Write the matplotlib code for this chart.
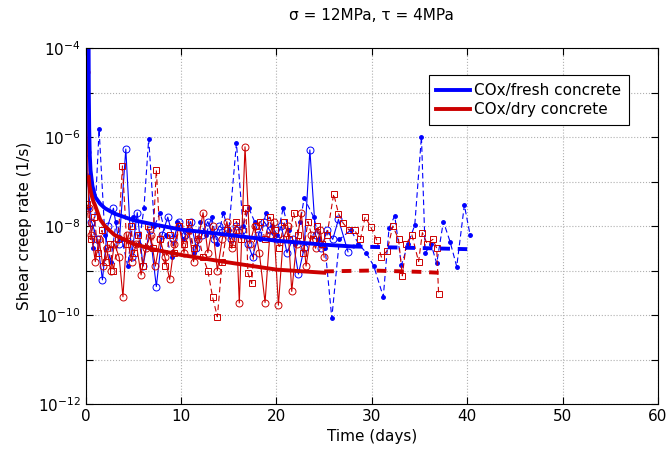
import numpy as np
import matplotlib
matplotlib.use("Agg")
import matplotlib.pyplot as plt
from matplotlib.ticker import FixedLocator, FuncFormatter

# ---------------------------------------------------------------
# data (rates stored as log10 of 1/s)
# ---------------------------------------------------------------
# fresh concrete, test 1 (solid, open circles)
t_fresh1 = [0.05, 0.1, 0.15, 0.6, 1.2, 1.75, 2.3, 2.9, 3.5, 4.2, 4.8, 5.4, 6.0, 6.7,
            7.4, 8.0, 8.6, 9.2, 9.8, 10.4, 11.0, 11.6, 12.2, 12.8, 13.4, 14.0, 14.6,
            15.2, 15.8, 16.4, 17.0, 17.5, 18.1, 18.7, 19.3, 19.9, 20.5, 21.1, 21.7,
            22.3, 22.9, 23.5, 24.1, 24.7, 25.3, 25.9, 26.5, 27.5]
r_fresh1 = [-6.18, -6.33, -6.89, -7.9, -8.3, -9.21, -8.0, -7.6, -8.4, -6.27, -8.7, -7.7,
            -8.9, -8.1, -9.36, -8.2, -7.8, -8.3, -7.9, -8.2, -7.9, -8.5, -8.2, -7.9,
            -8.3, -8.0, -8.1, -8.3, -8.0, -8.1, -8.4, -8.69, -8.2, -7.9, -8.1, -8.3,
            -8.0, -8.6, -8.3, -9.08, -8.5, -6.29, -8.2, -8.5, -8.1, -8.3, -7.85, -8.58]

# fresh concrete, test 2 (dashed, dots)
t_fresh2 = [0.3, 0.8, 1.4, 2.0, 2.6, 3.2, 3.8, 4.4, 5.0, 5.6, 6.1, 6.6, 7.2, 7.8, 8.4,
            9.0, 9.6, 10.2, 10.8, 11.4, 12.0, 12.6, 13.2, 13.8, 14.4, 15.0, 15.8, 16.5,
            17.1, 17.7, 18.3, 18.9, 19.5, 20.1, 20.7, 21.3, 21.9, 22.5, 22.9, 23.9,
            24.5, 25.1, 25.8, 26.6, 27.8, 28.6, 29.4, 30.2, 31.2, 31.8, 32.4, 33.1,
            33.8, 34.5, 35.2, 35.6, 36.2, 36.8, 37.5, 38.2, 38.9, 39.7, 40.3]
r_fresh2 = [-7.6, -8.5, -5.83, -8.2, -8.8, -7.9, -8.3, -8.9, -7.8, -8.4, -7.6, -6.04,
            -8.0, -7.7, -8.2, -8.7, -7.9, -8.3, -8.1, -8.6, -7.9, -8.2, -7.8, -8.4,
            -7.7, -8.1, -6.14, -8.0, -7.6, -7.9, -8.3, -7.7, -8.0, -8.2, -7.6, -8.1,
            -8.4, -7.9, -7.37, -7.8, -8.3, -8.5, -10.07, -8.3, -8.09, -8.4, -8.6,
            -8.9, -9.59, -8.05, -7.77, -8.88, -8.4, -7.98, -5.99, -8.61, -8.4, -8.84,
            -7.9, -8.35, -8.91, -7.53, -8.2]

# dry concrete, test 1 (solid, open circles)
t_dry1 = [0.05, 0.3, 0.6, 1.0, 1.4, 1.8, 2.2, 2.6, 3.0, 3.5, 3.9, 4.3, 4.8, 5.3, 5.8,
          6.3, 6.8, 7.3, 7.8, 8.3, 8.8, 9.3, 9.8, 10.3, 10.8, 11.3, 11.8, 12.3, 12.8,
          13.3, 13.8, 14.3, 14.8, 15.3, 15.8, 16.1, 16.7, 17.2, 17.7, 18.2, 18.8,
          19.3, 19.7, 20.2, 20.7, 21.2, 21.6, 22.1, 22.6, 23.1, 23.6, 24.1, 24.6, 25.0]
r_dry1 = [-4.53, -7.6, -8.2, -8.8, -8.3, -8.9, -8.5, -9.0, -8.4, -8.7, -9.59, -8.2,
          -8.8, -8.4, -9.1, -8.5, -8.2, -8.9, -8.3, -8.7, -9.2, -8.4, -8.0, -8.6, -8.1,
          -8.8, -8.3, -7.7, -8.6, -8.0, -9.0, -8.3, -7.9, -8.5, -8.1, -9.73, -6.22,
          -8.4, -8.0, -8.6, -9.72, -8.2, -7.9, -9.78, -8.3, -8.0, -9.47, -8.4, -7.7,
          -8.9, -8.2, -8.5, -8.1, -8.7]

# dry concrete, test 2 (dashed, open squares)
t_dry2 = [0.1, 0.5, 0.9, 1.3, 1.7, 2.1, 2.5, 2.9, 3.4, 3.85, 4.3, 4.7, 5.1, 5.5, 6.0,
          6.5, 7.0, 7.4, 7.8, 8.3, 8.8, 9.3, 9.8, 10.3, 10.8, 11.3, 11.8, 12.3, 12.8,
          13.3, 13.8, 14.3, 14.8, 15.3, 15.8, 16.3, 16.8, 17.0, 17.4, 17.8, 18.3, 18.8,
          19.3, 19.8, 20.3, 20.8, 21.3, 21.8, 22.3, 22.8, 23.3, 23.8, 24.3, 24.8, 25.3,
          26.0, 26.5, 27.0, 27.6, 28.2, 28.8, 29.3, 29.9, 30.5, 31.0, 31.6, 32.2, 32.8,
          33.2, 33.6, 34.2, 34.9, 35.3, 35.8, 36.4, 36.8, 37.0]
r_dry2 = [-7.5, -8.3, -7.8, -8.6, -8.1, -8.8, -8.4, -9.0, -8.3, -6.65, -8.4, -8.0,
          -8.6, -8.2, -8.9, -8.0, -8.5, -6.74, -8.3, -8.9, -8.2, -8.6, -8.0, -8.4,
          -7.9, -8.5, -8.2, -8.7, -9.0, -9.6, -10.04, -8.8, -8.1, -8.4, -7.9, -8.3,
          -7.6, -9.06, -9.29, -8.0, -7.9, -8.3, -7.8, -8.1, -8.5, -7.9, -8.3, -7.7,
          -8.2, -8.6, -7.9, -8.3, -8.0, -8.4, -8.2, -7.28, -7.72, -7.94, -8.09, -8.1,
          -8.3, -7.79, -8.03, -8.31, -8.7, -8.56, -8.0, -8.3, -9.12, -8.4, -8.2, -8.8,
          -8.15, -8.4, -8.3, -8.5, -9.53]

# fitted creep laws (thick lines), solid over the test period, dashed beyond
t_fit_fresh = [0.3, 0.32, 0.36, 0.42, 0.5, 0.7, 1.0, 1.5, 2.0, 3.0, 5.0, 7.0, 10.0,
               15.0, 20.0, 25.0, 28.0]
r_fit_fresh = [-4.0, -5.0, -5.8, -6.4, -6.75, -7.1, -7.35, -7.5, -7.6, -7.72, -7.87,
               -7.96, -8.08, -8.2, -8.33, -8.42, -8.46]
t_ext_fresh = [28.0, 32.0, 36.0, 40.0]
r_ext_fresh = [-8.46, -8.48, -8.5, -8.52]

t_fit_dry = [0.3, 0.4, 0.6, 0.8, 1.0, 1.5, 2.0, 3.0, 5.0, 7.0, 10.0, 15.0, 20.0, 25.0]
r_fit_dry = [-6.9, -7.1, -7.3, -7.45, -7.55, -7.85, -8.0, -8.2, -8.4, -8.52, -8.65,
             -8.82, -8.98, -9.05]
t_ext_dry = [25.0, 30.0, 35.0, 37.0]
r_ext_dry = [-9.02, -9.0, -9.03, -9.05]

BLUE = "#0000ff"
RED = "#cc0000"

plt.rcParams["font.family"] = "DejaVu Sans"
plt.rcParams["mathtext.default"] = "regular"

fig = plt.figure(figsize=(6.7, 4.66), dpi=100)
ax = fig.add_axes([0.128, 0.133, 0.854, 0.764])

def p(v):
    return 10.0 ** np.array(v)

# measured rates
ax.plot(t_fresh1, p(r_fresh1), "-", color=BLUE, lw=0.8, marker="o", ms=5,
        mfc="none", mew=0.7)
ax.plot(t_fresh2, p(r_fresh2), "--", color=BLUE, lw=0.8, marker=".", ms=5,
        dashes=(5, 3))
ax.plot(t_dry1, p(r_dry1), "-", color=RED, lw=0.8, marker="o", ms=5,
        mfc="none", mew=0.7)
ax.plot(t_dry2, p(r_dry2), "--", color=RED, lw=0.8, marker="s", ms=4.5,
        mfc="none", mew=0.7, dashes=(5, 3))

# fits
ax.plot(t_fit_fresh, p(r_fit_fresh), "-", color=BLUE, lw=2.8, label="COx/fresh concrete")
ax.plot(t_ext_fresh, p(r_ext_fresh), "--", color=BLUE, lw=2.8, dashes=(2.5, 2))
ax.plot(t_fit_dry, p(r_fit_dry), "-", color=RED, lw=2.8, label="COx/dry concrete")
ax.plot(t_ext_dry, p(r_ext_dry), "--", color=RED, lw=2.8, dashes=(2.5, 2))

ax.set_yscale("log")
ax.set_xlim(0, 60)
ax.set_ylim(1e-12, 1e-4)
ax.set_xticks([0, 10, 20, 30, 40, 50, 60])
ax.yaxis.set_major_locator(FixedLocator([10.0 ** k for k in range(-12, -3)]))
ax.yaxis.set_minor_locator(FixedLocator([]))

def yfmt(v, pos):
    k = int(round(np.log10(v)))
    return r"$10^{%d}$" % k if k % 2 == 0 else ""

ax.yaxis.set_major_formatter(FuncFormatter(yfmt))
ax.tick_params(direction="in", top=True, right=True, labelsize=11, length=5)
ax.grid(True, which="major", ls=":", color="#b0b0b0", lw=0.8)

ax.set_xlabel("Time (days)", fontsize=11)
ax.set_ylabel("Shear creep rate (1/s)", fontsize=11)
ax.set_title("σ = 12MPa, τ = 4MPa", fontsize=11, pad=20)

leg = ax.legend(loc="upper right", bbox_to_anchor=(0.963, 0.945), fontsize=11,
                fancybox=False, edgecolor="black", framealpha=1, handlelength=2.2,
                borderpad=0.5, labelspacing=0.3, handletextpad=0.3)
leg.get_frame().set_linewidth(0.8)

plt.savefig("out.png", dpi=100)
